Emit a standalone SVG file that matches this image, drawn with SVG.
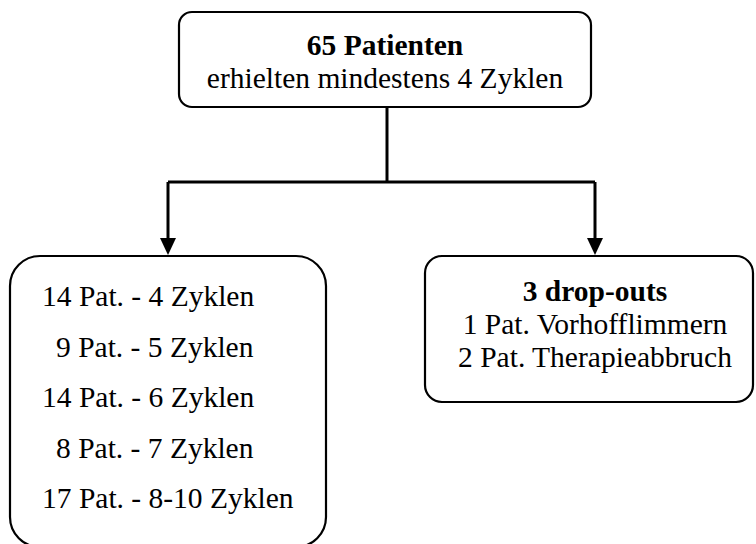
<svg xmlns="http://www.w3.org/2000/svg" width="756" height="544" viewBox="0 0 756 544">
<style>
.box{fill:#fff;stroke:#000;stroke-width:2.2}
.t{font-family:"Liberation Serif","Times New Roman",serif;font-size:29.5px;fill:#000}
.b{font-weight:bold}
.c{text-anchor:middle}
.line{fill:none;stroke:#000;stroke-width:3}
</style>
<defs>
<marker id="arr" markerUnits="userSpaceOnUse" markerWidth="18" markerHeight="18" viewBox="0 0 18 18" refX="9" refY="17" orient="auto-start-reverse">
<path d="M1,0 L17,0 L9,17 Z" fill="#000"/>
</marker>
</defs>
<rect width="756" height="544" fill="#fff"/>
<g id="connectors">
<path class="line" d="M387,107 V182"/>
<path class="line" d="M168,182 H595"/>
<path class="line" d="M168,182 V238"/>
<path d="M160,238 L176,238 L168,255 Z" fill="#000"/>
<path class="line" d="M595,182 V238"/>
<path d="M587,238 L603,238 L595,255 Z" fill="#000"/>
</g>
<g id="top">
<rect class="box" x="179" y="12" width="412" height="95" rx="13"/>
<text class="t b c" x="385" y="55">65 Patienten</text>
<text class="t c" x="385" y="88">erhielten mindestens 4 Zyklen</text>
</g>
<g id="cycles">
<rect class="box" x="10" y="256" width="316" height="291" rx="30"/>
<text class="t" x="42" y="306">14 Pat. - 4 Zyklen</text>
<text class="t" x="56" y="357">9 Pat. - 5 Zyklen</text>
<text class="t" x="42" y="407">14 Pat. - 6 Zyklen</text>
<text class="t" x="56" y="458">8 Pat. - 7 Zyklen</text>
<text class="t" x="42" y="508">17 Pat. - 8-10 Zyklen</text>
</g>
<g id="dropouts">
<rect class="box" x="425" y="256" width="328" height="146" rx="17"/>
<text class="t b c" x="595" y="301">3 drop-outs</text>
<text class="t c" x="595" y="334">1 Pat. Vorhofflimmern</text>
<text class="t c" x="595" y="367">2 Pat. Therapieabbruch</text>
</g>
</svg>
